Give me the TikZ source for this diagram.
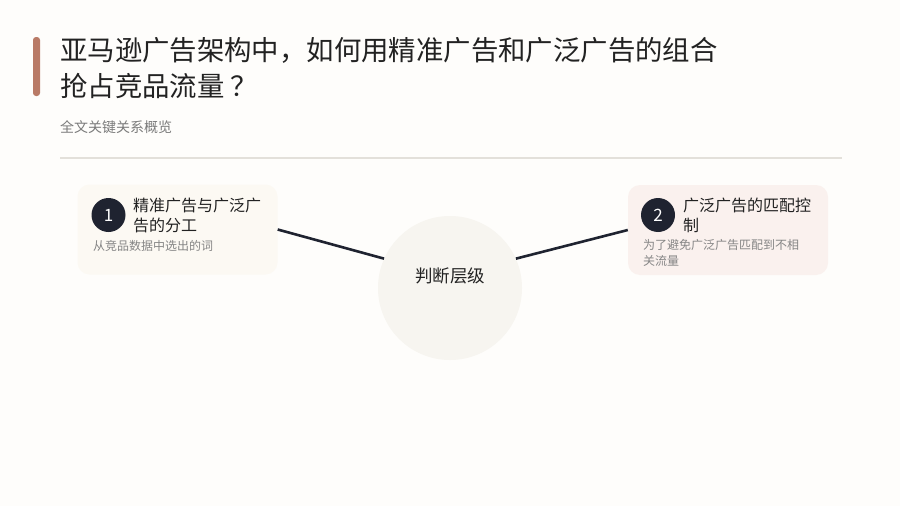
\documentclass[tikz,border=0pt]{standalone}
\usepackage{fontspec}
\setmainfont{Noto Sans CJK SC}
\usetikzlibrary{positioning}
\definecolor{bgc}{HTML}{FEFDFB}
\definecolor{accent}{HTML}{B97A66}
\definecolor{titlec}{HTML}{222222}
\definecolor{subc}{HTML}{7A7A7A}
\definecolor{rulec}{HTML}{E3E0DA}
\definecolor{boxa}{HTML}{FCF9F3}
\definecolor{boxb}{HTML}{FAF1EE}
\definecolor{navy}{HTML}{1F2330}
\definecolor{circc}{HTML}{F7F5F0}
\definecolor{descc}{HTML}{858585}
\begin{document}
\begin{tikzpicture}[x=1pt,y=-1pt,
  cardbox/.style={draw=none,rounded corners=12pt,minimum width=200pt,minimum height=90pt,inner sep=0pt},
  numdot/.style={circle,fill=navy,text=white,minimum size=34pt,inner sep=0pt,font=\fontsize{17}{17}\selectfont},
  cardtitle/.style={anchor=north west,inner sep=0pt,align=left,text=titlec,font=\fontsize{16}{19.5}\selectfont},
  carddesc/.style={anchor=north west,inner sep=0pt,align=left,text=descc,font=\fontsize{12}{15.5}\selectfont},
  link/.style={draw=navy,line width=2.6pt}
]
\useasboundingbox[fill=bgc] (0,0) rectangle (900,506);
% accent bar
\fill[accent,rounded corners=3pt] (33,37) rectangle (40,96);
% title
\node[anchor=west,inner sep=0pt,text=titlec,font=\fontsize{27.4}{34}\selectfont] (t1) at (60,50) {亚马逊广告架构中，如何用精准广告和广泛广告的组合};
\node[anchor=west,inner sep=0pt,text=titlec,font=\fontsize{27.4}{34}\selectfont] (t2) at (60,86) {抢占竞品流量\kern6pt？};
\node[anchor=west,inner sep=0pt,text=subc,font=\fontsize{14}{16}\selectfont] (sub) at (60,127) {全文关键关系概览};
\draw[rulec,line width=1.2pt] (60,158) -- (842,158);
% center circle
\node[circle,fill=circc,minimum size=144pt,inner sep=0pt] (circ) at (450,288) {};
\node[inner sep=0pt,text=titlec,font=\fontsize{17.5}{20}\selectfont] (clabel) at (450,276) {判断层级};
% card 1
\node[cardbox,fill=boxa] (box1) at (177.5,229.5) {};
\node[numdot] (n1) at (108.5,215) {1};
\node[cardtitle] (h1) at (133,198) {精准广告与广泛广\\告的分工};
\node[carddesc] (d1) at (93,240) {从竞品数据中选出的词};
% card 2
\node[cardbox,fill=boxb] (box2) at (728,230) {};
\node[numdot] (n2) at (658,215) {2};
\node[cardtitle] (h2) at (683,198) {广泛广告的匹配控\\制};
\node[carddesc] (d2) at (643,239.5) {为了避免广泛广告匹配到不相\\关流量};
% connectors
\draw[link] (box1.east) -- (circ.156);
\draw[link] (box2.west) -- (circ.24);
\end{tikzpicture}
\end{document}
